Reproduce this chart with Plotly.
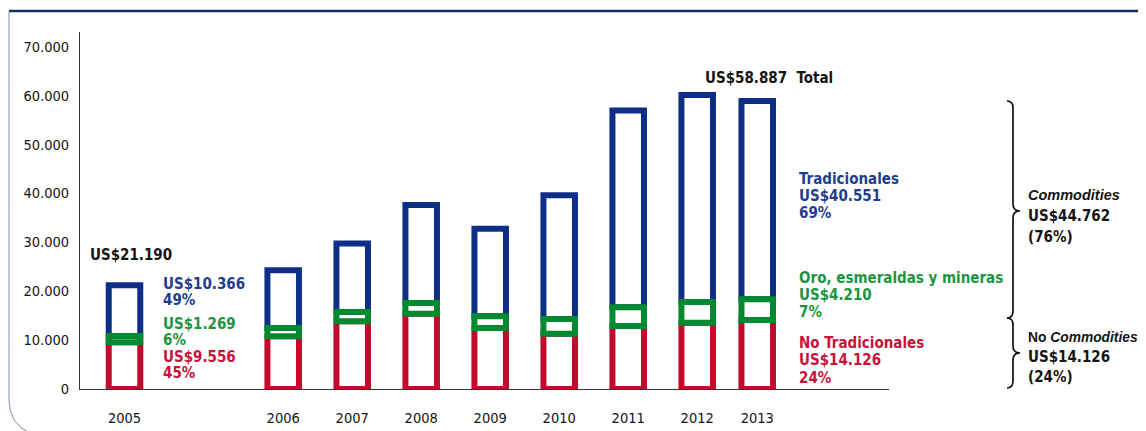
import plotly.graph_objects as go

# ---------------- data (millions of US$) ----------------
years = ["2005", "2006", "2007", "2008", "2009", "2010", "2011", "2012", "2013"]
no_tradicionales = [9556, 10790, 13860, 15410, 12480, 11320, 12890, 13570, 14126]
oro_esmeraldas = [1269, 1690, 1900, 2190, 2400, 3010, 3830, 4240, 4210]
tradicionales = [10366, 11810, 13980, 20000, 17870, 25310, 40240, 42300, 40551]
y_tick_values = [0, 10000, 20000, 30000, 40000, 50000, 60000, 70000]
y_tick_labels = ["0", "10.000", "20.000", "30.000", "40.000", "50.000", "60.000", "70.000"]

# ---------------- layout (positions / styles) ----------------
x_slots = [0, 2.3, 3.3, 4.3, 5.3, 6.3, 7.3, 8.3, 9.17]
BAR_W = 0.457
OFF = 8                      # page body margin of the html page
W, H = 1146 - OFF, 431 - OFF
PL, PR, PT, PB = 80 - OFF, 889 - OFF, 32 - OFF, 389 - OFF

BLUE, GREEN, RED = "#0f2f86", "#03892f", "#c20a2d"
TBLUE, TGREEN, TRED = "#213d90", "#1a9540", "#c8123a"
DARK = "#151515"
FONT = "DejaVu Sans Condensed, DejaVu Sans, sans-serif"
FONT_IT = "Liberation Sans, Arial, sans-serif"


def xp(px):
    return (px - OFF - PL) / (PR - PL)


def yp(py):
    return (PB - (py - OFF)) / (PB - PT)


base_green = no_tradicionales
base_blue = [a + b for a, b in zip(no_tradicionales, oro_esmeraldas)]

fig = go.Figure()


def bar(y, base, color, name):
    fig.add_trace(go.Bar(
        x=x_slots, y=y, base=base, width=BAR_W, name=name,
        marker=dict(color="white", line=dict(color=color, width=6)),
        hoverinfo="skip", showlegend=False,
    ))


bar(tradicionales, base_blue, BLUE, "Tradicionales")
bar(no_tradicionales, [0] * len(years), RED, "No Tradicionales")
bar(oro_esmeraldas, base_green, GREEN, "Oro, esmeraldas y mineras")

ann = []


def text(t, px, py, color, size=15, bold=True, family=FONT):
    ann.append(dict(
        text=("<b>%s</b>" % t) if bold else t,
        x=xp(px - 2), y=yp(py), xref="paper", yref="paper",
        xanchor="left", yanchor="middle", showarrow=False,
        font=dict(family=family, size=size, color=color),
    ))


text("US$21.190", 90, 255, DARK)
text("US$10.366", 163, 284, TBLUE)
text("49%", 163, 300, TBLUE)
text("US$1.269", 163, 324, TGREEN)
text("6%", 163, 340, TGREEN)
text("US$9.556", 163, 357, TRED)
text("45%", 163, 373, TRED)

text("US$58.887\u00a0\u00a0Total", 705, 78, DARK)

text("Tradicionales", 799, 179, TBLUE)
text("US$40.551", 799, 196, TBLUE)
text("69%", 799, 213, TBLUE)
text("Oro, esmeraldas y mineras", 799, 278, TGREEN)
text("US$4.210", 799, 295, TGREEN)
text("7%", 799, 312, TGREEN)
text("No Tradicionales", 799, 343, TRED)
text("US$14.126", 799, 360, TRED)
text("24%", 799, 378, TRED)

text("<i>Commodities</i>", 1028, 195, DARK, size=14.5, family=FONT_IT)
text("US$44.762", 1028, 216, DARK)
text("(76%)", 1028, 237, DARK)
text("No <i>Commodities</i>", 1028, 337, DARK, size=13.8, family=FONT_IT)
text("US$14.126", 1028, 357, DARK)
text("(24%)", 1028, 377, DARK)


def path(points_cmds):
    out = []
    for item in points_cmds:
        if isinstance(item, str):
            out.append(item)
        else:
            out.append("%.5f,%.5f" % (xp(item[0]), yp(item[1])))
    return " ".join(out)


def brace(x0, ytop, ybot, ymid):
    d = path([
        "M", (x0 - 6, ytop), "Q", (x0, ytop), (x0, ytop + 7),
        "L", (x0, ymid - 7), "Q", (x0, ymid), (x0 + 7, ymid),
        "Q", (x0, ymid), (x0, ymid + 7),
        "L", (x0, ybot - 7), "Q", (x0, ybot), (x0 - 6, ybot),
    ])
    return dict(type="path", path=d, xref="paper", yref="paper",
                line=dict(color="#111111", width=1.7))


shapes = [
    brace(1013, 101, 318, 211),
    brace(1013, 318, 388, 353),
    # frame
    dict(type="line", xref="paper", yref="paper",
         x0=xp(9), x1=xp(1150), y0=yp(11), y1=yp(11),
         line=dict(color="#1b2a6b", width=2.5)),
    dict(type="path", xref="paper", yref="paper",
         path=path(["M", (9, 11), "L", (9, 400), "Q", (9, 424), (30, 433)]),
         line=dict(color="#8090aa", width=1)),
    dict(type="path", xref="paper", yref="paper",
         path=path(["M", (1137, 433), "Q", (1143, 430), (1148, 423)]),
         line=dict(color="#8090aa", width=1)),
]

fig.update_layout(
    width=W, height=H,
    margin=dict(l=PL, r=W - PR, t=PT, b=H - PB, autoexpand=False),
    paper_bgcolor="white", plot_bgcolor="white",
    barmode="overlay",
    annotations=ann, shapes=shapes,
    font=dict(family=FONT, size=14, color=DARK),
    xaxis=dict(
        range=[(80 - 124.5) / 69, (889 - 124.5) / 69],
        tickvals=x_slots, ticktext=years, showgrid=False, zeroline=False,
        showline=True, linecolor="#333333", linewidth=1, ticks="",
        ticklabelstandoff=16, layer="below traces", automargin=False,
        tickfont=dict(family=FONT, size=14.5, color=DARK),
    ),
    yaxis=dict(
        range=[0, 73000], tickvals=y_tick_values, ticktext=y_tick_labels,
        showgrid=False, zeroline=False, showline=True, linecolor="#333333",
        linewidth=1, ticks="", ticklabelstandoff=7, layer="below traces",
        automargin=False,
        tickfont=dict(family=FONT, size=14.5, color=DARK),
    ),
)

fig.write_html("out.html")
